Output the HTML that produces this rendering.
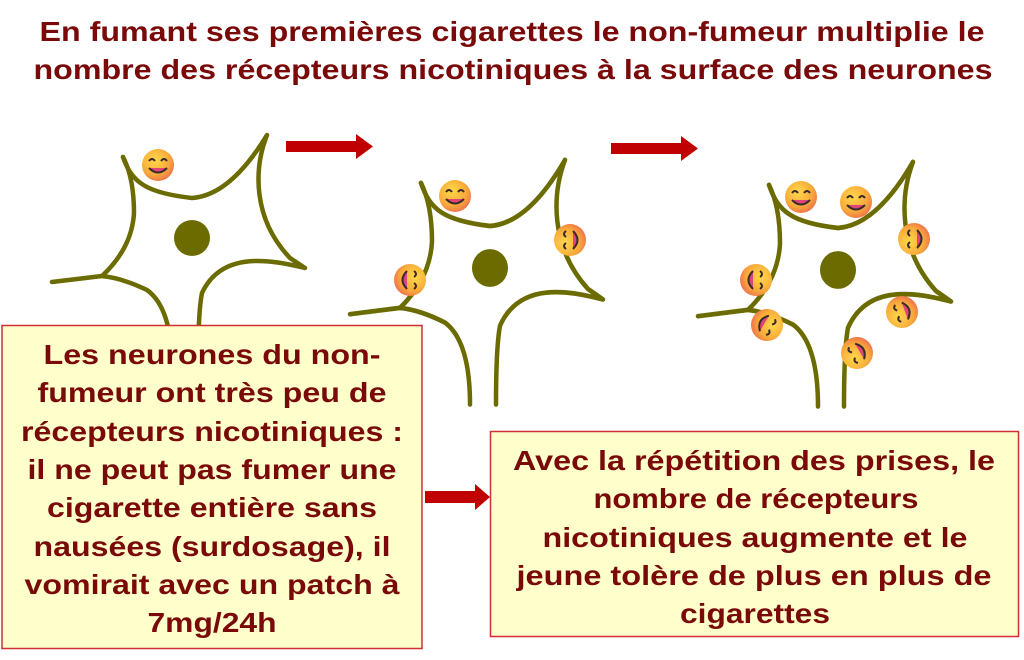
<!DOCTYPE html>
<html><head><meta charset="utf-8"><style>
html,body{margin:0;padding:0;background:#fff;}
svg{display:block;}
text{font-family:"Liberation Sans",Arial,sans-serif;font-weight:bold;fill:#7a0a0a;}
</style></head><body>
<svg width="1024" height="660" viewBox="0 0 1024 660" xmlns="http://www.w3.org/2000/svg">
<defs>
<radialGradient id="eg" cx="40%" cy="35%" r="65%">
<stop offset="0" stop-color="#ffd84a"/><stop offset="0.7" stop-color="#f8a93a"/><stop offset="1" stop-color="#f07a4a"/>
</radialGradient>
<g id="neuron" fill="none" stroke="#6b6b00" stroke-width="4.5" stroke-linecap="round" stroke-linejoin="round">
<path d="M-69,-81 C-60,-55 -45,-45 0,-40 C30,-42 55,-70 75,-103 C62,-70 60,-20 98,20 L113,30 C80,22 30,12 10,55 Q6,75 6,130"/>
<path d="M-20,130 Q-20,70 -45,52 Q-70,40 -90,38 L-140,44"/>
<path d="M-90,38 Q-60,10 -58,-25 Q-58,-60 -69,-81"/>
<circle cx="0" cy="0" r="18" fill="#6b6b00" stroke="none"/>
</g>
<g id="emo">
<circle r="16" fill="url(#eg)"/>
<path d="M-9,-4 q3,-4 6,0 M3,-4 q3,-4 6,0" stroke="#3a2a2a" stroke-width="2" fill="none"/>
<path d="M-9,3 q9,9 18,0" stroke="#3a2a2a" stroke-width="2" fill="#e0457a"/>
</g>
</defs>

<g font-size="28" text-anchor="middle" lengthAdjust="spacingAndGlyphs">
<text x="512" y="41" textLength="945" lengthAdjust="spacingAndGlyphs">En fumant ses premières cigarettes le non-fumeur multiplie le</text>
<text x="513" y="79" textLength="959" lengthAdjust="spacingAndGlyphs">nombre des récepteurs nicotiniques à la surface des neurones</text>
</g>

<g fill="#c00000">
<rect x="286" y="141" width="70" height="11"/><polygon points="356,134 373,146.5 356,159"/>
<rect x="611" y="143" width="70" height="11"/><polygon points="681,136 698,148.5 681,161"/>
<rect x="425" y="491" width="50" height="12"/><polygon points="475,484 490,497 475,510"/>
</g>

<use href="#neuron" x="192" y="238"/>
<use href="#neuron" transform="translate(490,268) scale(1,1.05)"/>
<use href="#neuron" transform="translate(838,270) scale(1,1.05)"/>

<use href="#emo" x="158" y="165"/>
<use href="#emo" x="455" y="196"/>
<use href="#emo" transform="translate(570,240) rotate(-90)"/>
<use href="#emo" transform="translate(410,280) rotate(90)"/>
<use href="#emo" x="801" y="197"/>
<use href="#emo" x="856" y="202"/>
<use href="#emo" transform="translate(914,239) rotate(-90)"/>
<use href="#emo" transform="translate(756,280) rotate(90)"/>
<use href="#emo" transform="translate(767,325) rotate(120)"/>
<use href="#emo" transform="translate(902,312) rotate(-110)"/>
<use href="#emo" transform="translate(857,353) rotate(-120)"/>

<rect x="2" y="325.5" width="420" height="323" fill="#ffffcc" stroke="#d03030" stroke-width="1.5"/>
<g font-size="28" text-anchor="middle">
<text x="212" y="364" textLength="337" lengthAdjust="spacingAndGlyphs">Les neurones du non-</text>
<text x="212" y="402" textLength="349" lengthAdjust="spacingAndGlyphs">fumeur ont très peu de</text>
<text x="212" y="441" textLength="382" lengthAdjust="spacingAndGlyphs">récepteurs nicotiniques :</text>
<text x="212" y="479" textLength="369" lengthAdjust="spacingAndGlyphs">il ne peut pas fumer une</text>
<text x="212" y="517" textLength="330" lengthAdjust="spacingAndGlyphs">cigarette entière sans</text>
<text x="212" y="556" textLength="357" lengthAdjust="spacingAndGlyphs">nausées (surdosage), il</text>
<text x="212" y="594" textLength="375" lengthAdjust="spacingAndGlyphs">vomirait avec un patch à</text>
<text x="212" y="632" textLength="129" lengthAdjust="spacingAndGlyphs">7mg/24h</text>
</g>

<rect x="490.5" y="431.5" width="528" height="205" fill="#ffffcc" stroke="#d03030" stroke-width="1.5"/>
<g font-size="28" text-anchor="middle">
<text x="754" y="470" textLength="482" lengthAdjust="spacingAndGlyphs">Avec la répétition des prises, le</text>
<text x="756" y="508" textLength="325" lengthAdjust="spacingAndGlyphs">nombre de récepteurs</text>
<text x="755" y="547" textLength="425" lengthAdjust="spacingAndGlyphs">nicotiniques augmente et le</text>
<text x="754" y="585" textLength="475" lengthAdjust="spacingAndGlyphs">jeune tolère de plus en plus de</text>
<text x="755" y="623" textLength="150" lengthAdjust="spacingAndGlyphs">cigarettes</text>
</g>
</svg>
</body></html>
